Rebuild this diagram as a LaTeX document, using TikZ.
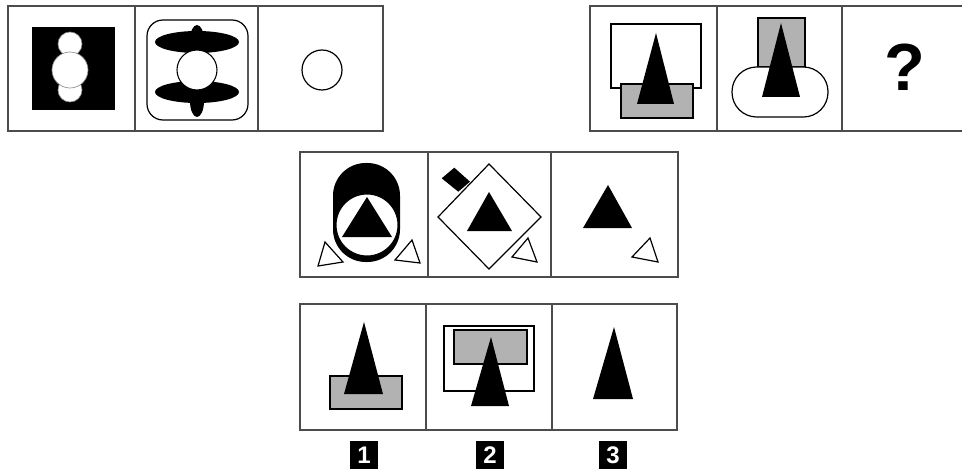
\documentclass[tikz,border=0pt]{standalone}
\usepackage{fontspec}
\setmainfont{Liberation Sans}
\usetikzlibrary{positioning}

\begin{document}
\begin{tikzpicture}[x=0.75pt,y=-0.75pt,
    frame/.style={draw=black!70, line width=1.5pt},
    outl/.style={draw=black, line width=0.9pt},
    tri/.style={fill=black},
    wbox/.style={outl, fill=white},
    gbox/.style={outl, fill=black!30},
    smalltri/.style={outl, fill=white, line join=miter},
    num/.style={fill=black, text=white, font=\bfseries\fontsize{18}{18}\selectfont, minimum size=21pt, inner sep=0pt}
]
\useasboundingbox (0,0) rectangle (962,470);

% top left row
\draw[frame] (8,6) rectangle (383,131);
\draw[frame] (135,6) -- (135,131) (258,6) -- (258,131);
\fill (32,27) rectangle (115,110);
\filldraw[fill=white, draw=black!45, line width=0.5pt] (70,44) circle (12) (70,90) circle (12);
\filldraw[fill=white, draw=black!45, line width=0.5pt] (70,70) circle (18);
\draw[outl, rounded corners=12pt] (147,20) rectangle (248,120);
\fill (197,42) ellipse (42 and 11) (197,40) ellipse (7 and 15);
\fill (197,92) ellipse (42 and 11) (197,101) ellipse (7 and 16);
\filldraw[fill=white, draw=black, line width=0.8pt] (197,70) circle (20);
\draw[outl] (322,70) circle (20);

% top right row
\draw[frame] (963,6) -- (590,6) -- (590,131) -- (963,131);
\draw[frame] (717,6) -- (717,131) (842,6) -- (842,131);
\draw[wbox] (611,24) rectangle (701,88);
\draw[gbox] (621,84) rectangle (693,118);
\fill[tri] (656,33) -- (637,104) -- (674,104) -- cycle;
\draw[gbox] (758,18) rectangle (805,67);
\draw[wbox, rounded corners=18.5pt] (732,67) rectangle (828,117);
\fill[tri] (781,23) -- (762,97) -- (800,97) -- cycle;
\node[font=\bfseries\fontsize{50}{50}\selectfont] (qmark) at (905,67) {?};

% middle row
\draw[frame] (300,152) rectangle (678,277);
\draw[frame] (428,152) -- (428,277) (551,152) -- (551,277);
\fill[rounded corners=24.5pt] (333,163) rectangle (400,262);
\filldraw[fill=white, draw=black, line width=0.8pt] (367,225) circle (31);
\fill[tri] (367,197) -- (342,237) -- (392,237) -- cycle;
\draw[smalltri] (325,242) -- (318,266) -- (343,262) -- cycle;
\draw[smalltri] (412,240) -- (420,263) -- (395,260) -- cycle;
\fill (441.7,178.3) -- (454.3,167.7) -- (470,181.7) -- (458.3,191.7) -- cycle;
\draw[wbox] (489,164) -- (541,217) -- (489,269) -- (438,217) -- cycle;
\fill[tri] (489,192) -- (467,231) -- (512,231) -- cycle;
\draw[smalltri] (528,238) -- (537,262) -- (512,257) -- cycle;
\fill[tri] (608,185) -- (583,228) -- (632,228) -- cycle;
\draw[smalltri] (650,238) -- (658,262) -- (632,257) -- cycle;

% answer row
\draw[frame] (300,304) rectangle (677,430);
\draw[frame] (426,304) -- (426,430) (552,304) -- (552,430);
\draw[gbox] (330,376) rectangle (402,409);
\fill[tri] (364,322) -- (344,394) -- (383,394) -- cycle;
\draw[wbox] (444,326) rectangle (534,391);
\draw[gbox] (454,330) rectangle (527,364);
\fill[tri] (491,337) -- (471,406) -- (509,406) -- cycle;
\fill[tri] (614,327) -- (593,399) -- (633,399) -- cycle;

\node[num] (lab1) at (364,455) {1};
\node[num] (lab2) at (490,455) {2};
\node[num] (lab3) at (613,455) {3};
\end{tikzpicture}
\end{document}
